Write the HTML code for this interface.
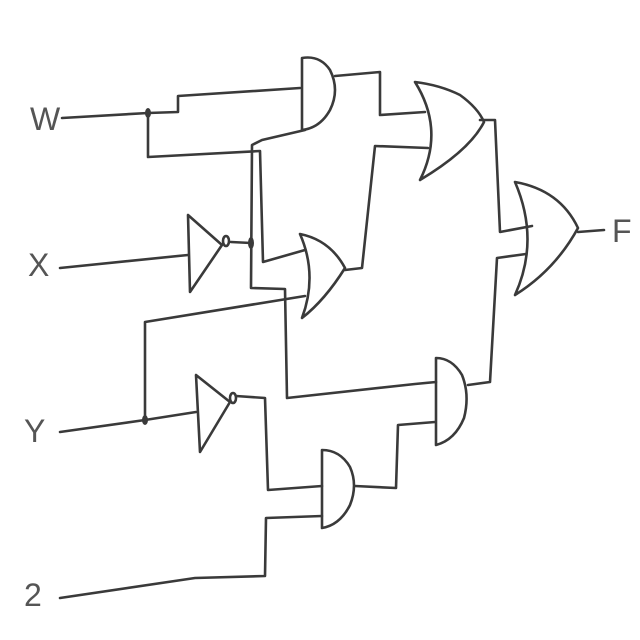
<!DOCTYPE html>
<html><head><meta charset="utf-8"><style>
html,body{margin:0;padding:0;background:#fff;width:640px;height:640px;overflow:hidden}
svg{display:block}
text{font-family:"Liberation Sans",sans-serif;fill:#555;font-size:32px;font-weight:300}
</style></head><body>
<svg width="640" height="640" viewBox="0 0 640 640">
<g fill="none" stroke="#3a3a3a" stroke-width="2.6" stroke-linecap="round" stroke-linejoin="round">
<g>
<path d="M62 118 L148 113 L178 112 L178 96 L300 88"/>
<path d="M148 113 L148 157 L260 151 L263 262 L305 250"/>
<path d="M305 130 L262 140 L252 145 L251 288 L285 289 L287 398 L415 384 L436 382"/>
<path d="M60 268 L188 255"/>
<path d="M231 242 L251 243"/>
<path d="M60 432 L145 420 L196 412"/>
<path d="M145 420 L145 322 L305 296"/>
<path d="M236 396 L265 398 L268 490 L322 486"/>
<path d="M60 598 L195 578 L265 576 L266 518 L322 516"/>
</g>
<g>
<path d="M335 76 L380 72 L380 115 L425 112"/>
<path d="M345 270 L362 268 L375 146 L428 148"/>
<path d="M480 120 L495 120 L500 232 L532 226"/>
<path d="M355 486 L396 488 L398 425 L435 422"/>
<path d="M468 385 L490 382 L497 258 L526 254"/>
<path d="M578 232 L604 230"/>
</g>
<path d="M302 58 L302 130 Q320 128 330 110 Q340 90 330 70 Q320 55 302 58 Z"/>
<path d="M415 82 Q440 85 460 95 Q478 108 484 122 Q470 150 420 180 Q445 130 415 82 Z"/>
<path d="M300 234 Q330 240 345 268 Q325 300 302 318 Q318 275 300 234 Z"/>
<path d="M515 182 Q560 190 578 228 Q555 270 515 295 Q540 240 515 182 Z"/>
<path d="M322 450 L322 528 Q340 525 350 505 Q358 485 350 467 Q340 450 322 450 Z"/>
<path d="M436 358 L436 445 Q455 440 464 418 Q470 395 462 375 Q452 358 436 358 Z"/>
<path d="M188 215 L190 292 L222 245 Z"/>
<ellipse cx="226" cy="241" rx="3" ry="5"/>
<path d="M196 375 L200 452 L230 402 Z"/>
<ellipse cx="233" cy="398" rx="3" ry="5"/>
</g>
<g fill="#3a3a3a">
<ellipse cx="148" cy="113" rx="3" ry="5"/>
<ellipse cx="251" cy="243" rx="3" ry="6"/>
<ellipse cx="145" cy="420" rx="3" ry="5"/>
</g>
<text x="30" y="130">W</text>
<text x="28" y="276">X</text>
<text x="24" y="442">Y</text>
<text x="24" y="606">2</text>
<text x="612" y="242">F</text>
</svg>
</body></html>
